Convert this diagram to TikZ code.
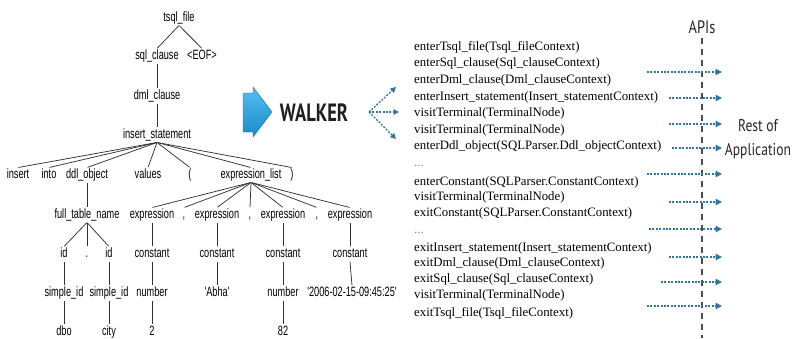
\documentclass[tikz,border=0pt]{standalone}
\usepackage{fontspec}
\setmainfont{Liberation Serif}
\newfontfamily\treefont[FakeStretch=0.68]{Liberation Sans}
\newfontfamily\labfont[FakeStretch=0.8]{PT Sans}
\newfontfamily\walkfont[FakeStretch=0.74]{PT Sans Bold}
\usetikzlibrary{arrows.meta}
\definecolor{apiblue}{RGB}{50,118,158}
\definecolor{walkhi}{RGB}{86,190,238}
\definecolor{walklo}{RGB}{22,140,205}
\begin{document}
\begin{tikzpicture}[x=1pt,y=-1pt,
  tn/.style={font=\treefont\fontsize{13.5}{15}\selectfont, inner sep=1.5pt, text height=9pt, text depth=2.5pt, text=black},
  te/.style={draw=black!80, line width=0.75pt, shorten <=0.5pt, shorten >=0.5pt},
  cb/.style={font=\fontsize{12.8}{14}\selectfont, anchor=west, inner sep=0pt, text height=9pt, text depth=3pt, text=black},
  dots/.style={cb, text=black!45},
  api/.style={draw=apiblue, line width=1.3pt, dash pattern=on 2pt off 1.4pt, -{Triangle[length=6.5pt,width=6.5pt]}},
  wk/.style={draw=apiblue, line width=1.3pt, dash pattern=on 2pt off 1.4pt, -{Triangle[length=5.5pt,width=5.5pt]}},
  vline/.style={draw=black!70, line width=1.5pt, dash pattern=on 6pt off 5pt},
  lab/.style={font=\labfont\fontsize{18}{17}\selectfont, text=black!85, inner sep=0pt}
]
\useasboundingbox (0,0) rectangle (792,338);

% ---------------- parse tree ----------------
\node[tn] (tsql) at (179,18) {tsql\_file};
\node[tn] (sqlc) at (157,56) {sql\_clause};
\node[tn] (eof)  at (202,56) {<EOF>};
\node[tn] (dml)  at (157,96) {dml\_clause};
\node[tn] (ins)  at (157,135) {insert\_statement};

\node[tn] (kins)   at (18,175)  {insert};
\node[tn] (kinto)  at (49,175)  {into};
\node[tn] (ddl)    at (87,175)  {ddl\_object};
\node[tn] (kval)   at (148,175) {values};
\node[tn] (lp)     at (190,175) {(};
\node[tn] (elist)  at (251,175) {expression\_list};
\node[tn] (rp)     at (292,175) {)};

\node[tn] (ftn)  at (87,215)  {full\_table\_name};
\node[tn] (ex1)  at (152,215) {expression};
\node[tn] (cm1)  at (184,215) {,};
\node[tn] (ex2)  at (217,215) {expression};
\node[tn] (cm2)  at (250,215) {,};
\node[tn] (ex3)  at (283,215) {expression};
\node[tn] (cm3)  at (317,215) {,};
\node[tn] (ex4)  at (350,215) {expression};

\node[tn] (id1)  at (64,254)  {id};
\node[tn] (dot)  at (87,254)  {.};
\node[tn] (id2)  at (109,254) {id};
\node[tn] (co1)  at (152,254) {constant};
\node[tn] (co2)  at (217,254) {constant};
\node[tn] (co3)  at (283,254) {constant};
\node[tn] (co4)  at (350,254) {constant};

\node[tn] (sid1) at (64,293)  {simple\_id};
\node[tn] (sid2) at (109,293) {simple\_id};
\node[tn] (num1) at (152,293) {number};
\node[tn] (abha) at (217,293) {'Abha'};
\node[tn] (num2) at (283,293) {number};
\node[tn] (date) at (352,293) {'2006-02-15-09:45:25'};

\node[tn] (dbo)  at (64,332)  {dbo};
\node[tn] (city) at (109,332) {city};
\node[tn] (two)  at (152,332) {2};
\node[tn] (e82)  at (283,332) {82};

\draw[te] (tsql.south) -- (sqlc.north);
\draw[te] (tsql.south) -- (eof.north);
\draw[te] (sqlc.south) -- (dml.north);
\draw[te] (dml.south) -- (ins.north);
\foreach \c in {kins,kinto,ddl,kval,lp,elist,rp} \draw[te] (ins.south) -- (\c.north);
\draw[te] (ddl.south) -- (ftn.north);
\foreach \c in {ex1,cm1,ex2,cm2,ex3,cm3,ex4} \draw[te] (elist.south) -- (\c.north);
\foreach \c in {id1,dot,id2} \draw[te] (ftn.south) -- (\c.north);
\draw[te] (id1.south) -- (sid1.north);
\draw[te] (sid1.south) -- (dbo.north);
\draw[te] (id2.south) -- (sid2.north);
\draw[te] (sid2.south) -- (city.north);
\draw[te] (ex1.south) -- (co1.north);
\draw[te] (co1.south) -- (num1.north);
\draw[te] (num1.south) -- (two.north);
\draw[te] (ex2.south) -- (co2.north);
\draw[te] (co2.south) -- (abha.north);
\draw[te] (ex3.south) -- (co3.north);
\draw[te] (co3.south) -- (num2.north);
\draw[te] (num2.south) -- (e82.north);
\draw[te] (ex4.south) -- (co4.north);
\draw[te] (co4.south) -- (date.north);

% ---------------- walker ----------------
\shade[top color=walkhi, bottom color=walklo, draw=walklo!80!black, line width=0.4pt]
  (243,93) -- (253,93) -- (253,87) -- (272,112) -- (253,137) -- (253,132) -- (243,132) -- cycle;
\node[font=\walkfont\fontsize{25}{25}\selectfont, text=black!88, inner sep=0pt] (walker) at (314,113) {WALKER};
\coordinate (ws) at (369,112);
\coordinate (wa1) at (396,87);
\coordinate (wa2) at (399,112);
\coordinate (wa3) at (396,139);
\draw[wk] (ws) -- (wa1);
\draw[wk] (ws) -- (wa2);
\draw[wk] (ws) -- (wa3);

% ---------------- callback list ----------------
\node[cb] (l1)  at (414,47)  {enterTsql\_file(Tsql\_fileContext)};
\node[cb] (l2)  at (414,63)  {enterSql\_clause(Sql\_clauseContext)};
\node[cb] (l3)  at (414,80)  {enterDml\_clause(Dml\_clauseContext)};
\node[cb] (l4)  at (414,97)  {enterInsert\_statement(Insert\_statementContext)};
\node[cb] (l5)  at (414,113) {visitTerminal(TerminalNode)};
\node[cb] (l6)  at (414,130) {visitTerminal(TerminalNode)};
\node[cb] (l7)  at (414,146) {enterDdl\_object(SQLParser.Ddl\_objectContext)};
\node[dots] (l8)  at (414,163) {...};
\node[cb] (l9)  at (414,182) {enterConstant(SQLParser.ConstantContext)};
\node[cb] (l10) at (414,197) {visitTerminal(TerminalNode)};
\node[cb] (l11) at (414,213) {exitConstant(SQLParser.ConstantContext)};
\node[dots] (l12) at (414,230) {...};
\node[cb] (l13) at (414,248) {exitInsert\_statement(Insert\_statementContext)};
\node[cb] (l14) at (414,263) {exitDml\_clause(Dml\_clauseContext)};
\node[cb] (l15) at (414,279) {exitSql\_clause(Sql\_clauseContext)};
\node[cb] (l16) at (414,295) {visitTerminal(TerminalNode)};
\node[cb] (l17) at (414,313) {exitTsql\_file(Tsql\_fileContext)};

% ---------------- API boundary ----------------
\node[lab] (apis) at (702,27) {APIs};
\coordinate (vbot) at (702,338);
\draw[vline] ([yshift=-4pt]apis.south) -- (vbot);

\foreach \i/\xs/\yy in {1/647/72, 2/669/98, 3/669/124, 4/672/148, 5/647/174,
                        6/669/202, 7/649/229, 8/669/257, 9/661/282, 10/647/306} {
  \coordinate (as\i) at (\xs,\yy);
  \coordinate (ae\i) at (722,\yy);
  \draw[api] (as\i) -- (ae\i);
}

\node[lab, align=center, font=\labfont\fontsize{17}{24}\selectfont] (rest) at (758,139) {Rest of\\Application};
\end{tikzpicture}
\end{document}
